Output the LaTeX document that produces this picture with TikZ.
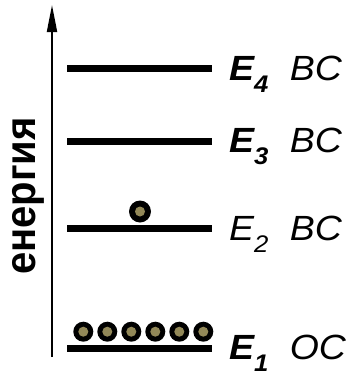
\documentclass[tikz,border=0pt]{standalone}
\usepackage{fontspec}
\setmainfont{Liberation Sans}
\usetikzlibrary{arrows.meta}
\definecolor{grain}{RGB}{146,136,88}
% level label: #1 = font switch for E and index, #2 = index, #3 = tag
\newcommand{\lvltag}[3]{\scalebox{1.07}[1]{%
  {\fontsize{35}{35}\selectfont\itshape#1E}%
  {\fontsize{24}{24}\selectfont\itshape#1\raisebox{-12pt}{#2}}%
  \hspace{20pt}{\fontsize{35}{35}\selectfont\itshape #3}}}
\tikzset{
  level/.style={line width=7pt},
  axis/.style={line width=2pt,-{Triangle[length=27pt,width=10pt]}},
  grainball/.style={circle,fill=black,minimum size=20pt,inner sep=0pt,
    path picture={\fill[grain] (path picture bounding box.center) circle (5pt);}},
  tag/.style={anchor=base west,inner sep=0pt},
}
\begin{document}
\begin{tikzpicture}[x=1pt,y=1pt]
\useasboundingbox (0,0) rectangle (350,-373);
% energy axis
\coordinate (axb) at (52,-357);
\coordinate (axt) at (52,-5);
\draw[axis] (axb) -- (axt);
\node[rotate=90,anchor=base,inner sep=0pt,font=\fontsize{40}{40}\selectfont\bfseries]
  (lbl) at (35,-196) {\scalebox{1}[1.07]{енергия}};
% energy levels
\foreach \n/\y in {4/68,3/141,2/228,1/348}{
  \coordinate (l\n a) at (67,-\y);
  \coordinate (l\n b) at (212,-\y);
  \draw[level] (l\n a) -- (l\n b);
}
% level tags
\node[tag] (t4) at (229,-80) {\lvltag{\bfseries}{4}{BC}};
\node[tag] (t3) at (229,-152) {\lvltag{\bfseries}{3}{BC}};
\node[tag] (t2) at (229,-240) {\lvltag{}{2}{BC}};
\node[tag] (t1) at (229,-359) {\lvltag{\bfseries}{1}{OC}};
% particles
\node[grainball,minimum size=22pt] (p2) at (140,-211.5) {};
\foreach \i in {0,...,5}{
  \node[grainball] (p1\i) at (83.3+24*\i,-331.7) {};
}
\end{tikzpicture}
\end{document}
